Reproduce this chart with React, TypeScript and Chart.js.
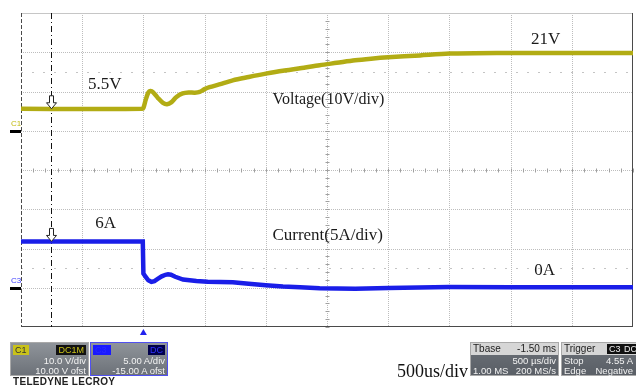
import React, { useEffect, useRef } from 'react';
import { Chart, registerables } from 'chart.js';
Chart.register(...registerables);

// time axis (ms), 500 us/div, trigger at 0
const timeDivisions = [-1, -0.5, 0, 0.5, 1, 1.5, 2, 2.5, 3, 3.5, 4];
// channel 1: 10 V/div, 10 V offset
const voltDivisions = [-50, -40, -30, -20, -10, 0, 10, 20, 30];
// channel 3: 5 A/div, -15 A offset
const ampDivisions = [-5, 0, 5, 10, 15, 20, 25, 30, 35];

const voltageTime = [-1.0, -0.5, -0.01, 0.0, 0.02, 0.04, 0.057, 0.08, 0.12, 0.16, 0.193, 0.23, 0.27, 0.321, 0.37, 0.42, 0.46, 0.5, 0.54, 0.62, 0.73, 0.86, 1.0, 1.14, 1.28, 1.44, 1.58, 1.73, 1.86, 2.0, 2.26, 2.5, 2.91, 3.5, 4.0];
const voltageValues = [5.6, 5.55, 5.6, 5.8, 8.0, 9.7, 10.1, 9.8, 8.3, 7.1, 6.75, 7.3, 8.6, 9.5, 9.75, 9.7, 9.9, 10.6, 11.1, 11.8, 12.85, 13.7, 14.55, 15.3, 15.9, 16.7, 17.3, 17.95, 18.35, 18.7, 19.2, 19.65, 19.8, 19.8, 19.8];

const currentTime = [-1.0, -0.5, -0.005, 0.0, 0.019, 0.04, 0.065, 0.09, 0.12, 0.15, 0.18, 0.201, 0.225, 0.26, 0.324, 0.433, 0.525, 0.73, 0.86, 1.0, 1.14, 1.28, 1.44, 1.73, 2.0, 2.5, 3.0, 4.0];
const currentValues = [5.9, 5.9, 5.9, 1.8, 1.37, 0.95, 0.75, 0.85, 1.15, 1.45, 1.65, 1.71, 1.65, 1.4, 1.04, 0.86, 0.78, 0.7, 0.5, 0.31, 0.15, 0.06, -0.05, -0.12, -0.03, 0.08, 0.06, 0.06];

const cursorTime = -0.755;
const voltHalfLine = 15;
const ampHalfLine = 2.5;

// annotations: [text, time, value, align]
const voltLabels: [string, number, number, string][] = [
  ['5.5V', -0.316, 11.8, 'center'],
  ['21V', 3.287, 23.3, 'center'],
  ['Voltage(10V/div)', 1.055, 7.76, 'left'],
];
const ampLabels: [string, number, number, string][] = [
  ['6A', -0.308, 8.2, 'center'],
  ['Current(5A/div)', 1.054, 6.68, 'left'],
  ['0A', 3.279, 2.22, 'center'],
];

const VOLT_COLOR = '#b2ac14';
const AMP_COLOR = '#1a1ee8';

const scopePlugin = {
  id: 'scope',
  beforeDatasetsDraw(chart: any) {
    const { ctx, chartArea: a, scales } = chart;
    const x = scales.x, yV = scales.yV;
    const hl = (py: number) => { ctx.beginPath(); ctx.moveTo(a.left, py); ctx.lineTo(a.right, py); ctx.stroke(); };
    const vl = (px: number) => { ctx.beginPath(); ctx.moveTo(px, a.top); ctx.lineTo(px, a.bottom); ctx.stroke(); };
    ctx.save();
    ctx.lineWidth = 1;
    ctx.strokeStyle = '#bdbdbd';
    ctx.setLineDash([1, 1]);
    timeDivisions.slice(1, -1).forEach((t) => vl(Math.round(x.getPixelForValue(t)) + 0.5));
    voltDivisions.slice(1, -1).forEach((v) => hl(Math.round(yV.getPixelForValue(v)) + 0.5));
    // half-division reference lines
    ctx.strokeStyle = '#c4c4c4';
    ctx.setLineDash([2, 9]);
    hl(Math.round(yV.getPixelForValue(voltHalfLine)) + 0.5);
    hl(Math.round(scales.yA.getPixelForValue(ampHalfLine)) + 0.5);
    // minor ticks on centre lines
    ctx.setLineDash([]);
    ctx.strokeStyle = '#a0a0a0';
    const cx = Math.round(x.getPixelForValue(1.5)) + 0.5;
    const cy = Math.round(yV.getPixelForValue(-10)) + 0.5;
    for (let v = -50; v <= 30; v += 2) {
      const py = Math.round(yV.getPixelForValue(v)) + 0.5;
      ctx.beginPath(); ctx.moveTo(cx - 2, py); ctx.lineTo(cx + 2, py); ctx.stroke();
    }
    for (let t = -1; t <= 4.001; t += 0.1) {
      const px = Math.round(x.getPixelForValue(t)) + 0.5;
      ctx.beginPath(); ctx.moveTo(px, cy - 2); ctx.lineTo(px, cy + 2); ctx.stroke();
    }
    // frame
    ctx.strokeStyle = '#c6c6c6';
    hl(a.top + 0.5);
    ctx.strokeStyle = '#4a4a4a';
    hl(a.bottom - 0.5);
    vl(a.right - 0.5);
    ctx.setLineDash([4, 2]);
    vl(a.left + 0.5);
    // cursor
    ctx.strokeStyle = '#111';
    ctx.setLineDash([6, 3, 1, 3]);
    vl(Math.round(x.getPixelForValue(cursorTime)) + 0.5);
    ctx.restore();
  },
  afterDatasetsDraw(chart: any) {
    const { ctx, chartArea: a, scales } = chart;
    const x = scales.x, yV = scales.yV, yA = scales.yA;
    ctx.save();
    // cursor arrows
    const arrow = (px: number, tip: number) => {
      ctx.beginPath();
      ctx.moveTo(px - 2, tip - 13);
      ctx.lineTo(px + 2, tip - 13);
      ctx.lineTo(px + 2, tip - 6);
      ctx.lineTo(px + 5, tip - 6);
      ctx.lineTo(px, tip);
      ctx.lineTo(px - 5, tip - 6);
      ctx.lineTo(px - 2, tip - 6);
      ctx.closePath();
      ctx.fillStyle = '#fff';
      ctx.fill();
      ctx.strokeStyle = '#222';
      ctx.lineWidth = 1;
      ctx.stroke();
    };
    const cpx = Math.round(x.getPixelForValue(cursorTime)) + 0.5;
    arrow(cpx, yV.getPixelForValue(voltageValues[0]));
    arrow(cpx, yA.getPixelForValue(currentValues[0]));
    // labels
    ctx.fillStyle = '#1a1a1a';
    ctx.textBaseline = 'middle';
    voltLabels.forEach(([s, t, v, al]) => {
      ctx.font = (s.length > 6 ? '16px' : '17px') + ' "Liberation Serif", "Times New Roman", serif';
      ctx.textAlign = al;
      ctx.fillText(s, x.getPixelForValue(t), yV.getPixelForValue(v));
    });
    ampLabels.forEach(([s, t, v, al]) => {
      ctx.font = '17px "Liberation Serif", "Times New Roman", serif';
      ctx.textAlign = al;
      ctx.fillText(s, x.getPixelForValue(t), yA.getPixelForValue(v));
    });
    // channel ground markers
    const marker = (name: string, py: number, col: string) => {
      ctx.fillStyle = '#000';
      ctx.fillRect(10, Math.round(py) - 1, a.left - 10, 3);
      ctx.fillStyle = col;
      ctx.font = '8px "Liberation Sans", Arial, sans-serif';
      ctx.textAlign = 'left';
      ctx.fillText(name, 11, py - 7);
    };
    marker('C1', yV.getPixelForValue(0), '#c2bb10');
    marker('C3', yA.getPixelForValue(0), '#4040ff');
    // trigger position marker
    const tx = x.getPixelForValue(0);
    ctx.fillStyle = '#2222ee';
    ctx.beginPath();
    ctx.moveTo(tx, a.bottom + 2);
    ctx.lineTo(tx + 3.5, a.bottom + 8);
    ctx.lineTo(tx - 3.5, a.bottom + 8);
    ctx.closePath();
    ctx.fill();
    ctx.restore();
  },
};

const sans = '"Liberation Sans", Arial, sans-serif';
const badge = (bg: string, fg: string): React.CSSProperties => ({
  position: 'absolute', top: 2, background: bg, color: fg, fontSize: 9, lineHeight: '10px', padding: '0 2px', fontFamily: sans,
});
const row = (top: number): React.CSSProperties => ({
  position: 'absolute', left: 2, right: 2, top, display: 'flex', justifyContent: 'space-between', color: '#f2f2f2', fontSize: 9.5, lineHeight: '10px', fontFamily: sans, whiteSpace: 'nowrap',
});

export default function App() {
  const ref = useRef<HTMLCanvasElement>(null);
  useEffect(() => {
    const chart = new Chart(ref.current as HTMLCanvasElement, {
      type: 'line',
      data: {
        datasets: [
          {
            label: 'Voltage',
            data: voltageTime.map((t, i) => ({ x: t, y: voltageValues[i] })),
            borderColor: VOLT_COLOR,
            borderWidth: 4.5,
            pointRadius: 0,
            tension: 0.3,
            yAxisID: 'yV',
          },
          {
            label: 'Current',
            data: currentTime.map((t, i) => ({ x: t, y: currentValues[i] })),
            borderColor: AMP_COLOR,
            borderWidth: 4.5,
            pointRadius: 0,
            tension: 0,
            yAxisID: 'yA',
          },
        ],
      },
      options: {
        responsive: false,
        animation: false,
        layout: { padding: { left: 21, top: 13, right: 3, bottom: 58 } },
        plugins: { legend: { display: false }, tooltip: { enabled: false } },
        scales: {
          x: { type: 'linear', display: false, min: timeDivisions[0], max: timeDivisions[timeDivisions.length - 1] },
          yV: { type: 'linear', display: false, min: voltDivisions[0], max: voltDivisions[voltDivisions.length - 1] },
          yA: { type: 'linear', display: false, min: ampDivisions[0], max: ampDivisions[ampDivisions.length - 1] },
        },
      },
      plugins: [scopePlugin],
    } as any);
    return () => chart.destroy();
  }, []);

  return (
    <div style={{ position: 'absolute', left: 0, top: 0, width: 636, height: 385, overflow: 'hidden', background: '#fff' }}>
      <canvas ref={ref} width={636} height={385} style={{ position: 'absolute', left: 0, top: 0 }} />
      {/* C1 panel */}
      <div style={{ position: 'absolute', left: 10, top: 342, width: 79, height: 34, background: 'linear-gradient(#8f949a,#6c7178)', border: '1px solid #a9a9a9', boxSizing: 'border-box' }}>
        <span style={{ ...badge('#c9c21a', '#333'), left: 2 }}>C1</span>
        <span style={{ ...badge('#111', '#c9c21a'), right: 2 }}>DC1M</span>
        <div style={{ ...row(13), justifyContent: 'flex-end' }}>10.0 V/div</div>
        <div style={{ ...row(23), justifyContent: 'flex-end' }}>10.00 V ofst</div>
      </div>
      {/* C3 panel */}
      <div style={{ position: 'absolute', left: 90, top: 342, width: 78, height: 34, background: 'linear-gradient(#8f949a,#6c7178)', border: '1px solid #5050f0', boxSizing: 'border-box' }}>
        <span style={{ ...badge('#1a1aff', '#2a2aff'), left: 2, width: 14 }}>C3</span>
        <span style={{ ...badge('#00004a', '#3030ff'), right: 2 }}>DC</span>
        <div style={{ ...row(13), justifyContent: 'flex-end' }}>5.00 A/div</div>
        <div style={{ ...row(23), justifyContent: 'flex-end' }}>-15.00 A ofst</div>
      </div>
      <div style={{ position: 'absolute', left: 13, top: 376, fontFamily: sans, fontWeight: 'bold', fontSize: 10, color: '#222', letterSpacing: 0.3, whiteSpace: 'nowrap' }}>TELEDYNE LECROY</div>
      <div style={{ position: 'absolute', left: 397, top: 361, fontFamily: '"Liberation Serif", "Times New Roman", serif', fontSize: 18, lineHeight: '20px', color: '#111', whiteSpace: 'nowrap' }}>500us/div</div>
      {/* Timebase panel */}
      <div style={{ position: 'absolute', left: 470, top: 342, width: 89, height: 34, background: 'linear-gradient(#6c7178,#5a5f66)', border: '1px solid #a9a9a9', boxSizing: 'border-box' }}>
        <div style={{ position: 'absolute', left: 0, right: 0, top: 0, height: 12, background: '#d6d6d6' }} />
        <div style={{ ...row(1), color: '#222', fontSize: 10 }}><span>Tbase</span><span>-1.50 ms</span></div>
        <div style={{ ...row(13), justifyContent: 'flex-end' }}>500 µs/div</div>
        <div style={{ ...row(23) }}><span>1.00 MS</span><span>200 MS/s</span></div>
      </div>
      {/* Trigger panel */}
      <div style={{ position: 'absolute', left: 561, top: 342, width: 78, height: 34, background: 'linear-gradient(#6c7178,#5a5f66)', border: '1px solid #a9a9a9', boxSizing: 'border-box' }}>
        <div style={{ position: 'absolute', left: 0, right: 0, top: 0, height: 12, background: '#d6d6d6' }} />
        <div style={{ ...row(1), color: '#222', fontSize: 10, justifyContent: 'flex-start' }}>Trigger</div>
        <span style={{ ...badge('#111', '#eee'), top: 1, left: 45 }}>C3</span>
        <span style={{ ...badge('#111', '#eee'), top: 1, left: 60 }}>DC</span>
        <div style={{ ...row(13), right: 5 }}><span>Stop</span><span>4.55 A</span></div>
        <div style={{ ...row(23), right: 5 }}><span>Edge</span><span>Negative</span></div>
      </div>
    </div>
  );
}
